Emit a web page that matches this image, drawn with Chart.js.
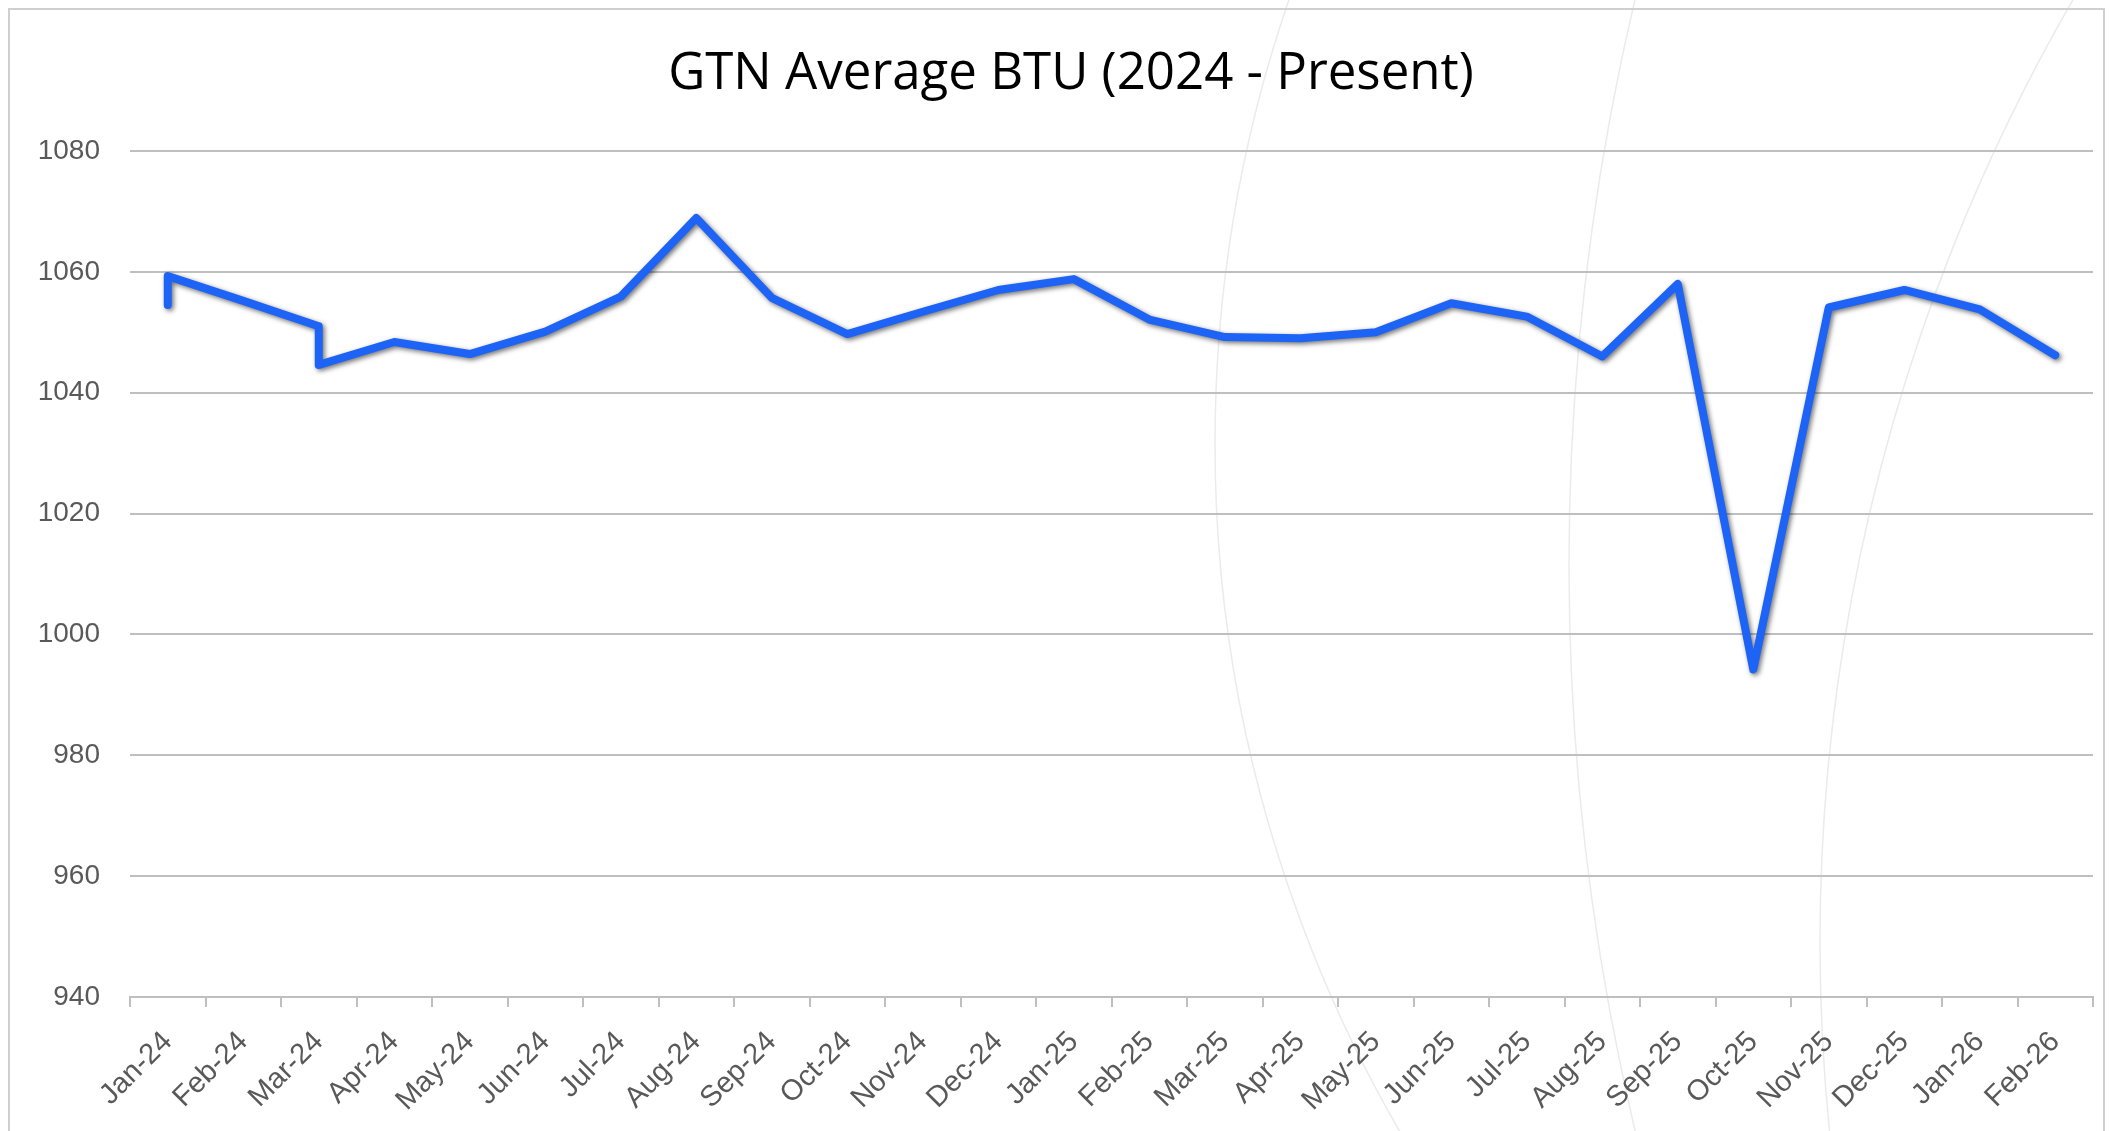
<!DOCTYPE html>
<html>
<head>
<meta charset="utf-8">
<title>GTN Average BTU</title>
<script src="https://cdn.jsdelivr.net/npm/chart.js@4.4.1/dist/chart.umd.min.js"></script>
<style>
    html, body { margin: 0; padding: 0; background: #ffffff; }
    #wrap { position: relative; width: 2111px; height: 1131px; }
</style>
</head>
<body>
<div id="wrap"><canvas id="btuChart" width="2111" height="1131"></canvas></div>
<script>
// Month categories on the x axis
const months = ['Jan-24', 'Feb-24', 'Mar-24', 'Apr-24', 'May-24', 'Jun-24', 'Jul-24', 'Aug-24',
    'Sep-24', 'Oct-24', 'Nov-24', 'Dec-24', 'Jan-25', 'Feb-25', 'Mar-25', 'Apr-25', 'May-25',
    'Jun-25', 'Jul-25', 'Aug-25', 'Sep-25', 'Oct-25', 'Nov-25', 'Dec-25', 'Jan-26', 'Feb-26'];

// Readings (some months have two readings, plotted in the same month slot)
const readingMonths = ['Jan-24', 'Jan-24', 'Feb-24', 'Mar-24', 'Mar-24', 'Apr-24', 'May-24', 'Jun-24',
    'Jul-24', 'Aug-24', 'Sep-24', 'Oct-24', 'Nov-24', 'Dec-24', 'Jan-25', 'Feb-25', 'Mar-25',
    'Apr-25', 'May-25', 'Jun-25', 'Jul-25', 'Aug-25', 'Sep-25', 'Oct-25', 'Nov-25', 'Dec-25',
    'Jan-26', 'Feb-26'];
const btuValues = [1054.5, 1059.3, 1055.2, 1051.0, 1044.6, 1048.4, 1046.4, 1050.1,
    1055.9, 1068.9, 1055.7, 1049.7, 1053.4, 1057.0, 1058.8, 1052.1, 1049.2,
    1049.0, 1050.0, 1054.8, 1052.6, 1046.0, 1058.0, 994.2, 1054.1, 1057.0,
    1053.8, 1046.2];

// Y axis range
const yMin = 940;
const yMax = 1080;
const yStep = 20;

const chartTitle = 'GTN Average BTU (2024 - Present)';
const axisGray = '#bfbfbf';
const labelGray = '#595959';

// soft drop shadow under the line, like the Excel effect
const lineShadow = {
    id: 'lineShadow',
    beforeDatasetsDraw(chart) {
        const ctx = chart.ctx;
        ctx.save();
        ctx.shadowColor = 'rgba(0, 0, 0, 0.55)';
        ctx.shadowBlur = 5;
        ctx.shadowOffsetX = 2;
        ctx.shadowOffsetY = 2;
    },
    afterDatasetsDraw(chart) {
        chart.ctx.restore();
    }
};

// frame, faint background swirls of the slide theme, and the title
// (Excel centres the title on the chart object, not on the plot area)
const chartFrame = {
    id: 'chartFrame',
    beforeDraw(chart) {
        const ctx = chart.ctx;
        ctx.save();
        ctx.strokeStyle = '#ebebeb';
        ctx.lineWidth = 1.5;
        [[2586, 444, 1371], [4025, 565, 2456], [3701, 942, 1881]].forEach(a => {
            ctx.beginPath();
            ctx.arc(a[0], a[1], a[2], 0, Math.PI * 2);
            ctx.stroke();
        });
        ctx.strokeStyle = '#cfcfcf';
        ctx.lineWidth = 2;
        ctx.beginPath();
        ctx.moveTo(9, 1131);
        ctx.lineTo(9, 9);
        ctx.lineTo(2104, 9);
        ctx.lineTo(2104, 1131);
        ctx.stroke();

        ctx.fillStyle = '#000000';
        ctx.font = '51px "Open Sans", sans-serif';
        ctx.textAlign = 'center';
        ctx.textBaseline = 'middle';
        ctx.fillText(chartTitle, 1071, 74);
        ctx.restore();
    }
};

const ctx = document.getElementById('btuChart').getContext('2d');
const btuChart = new Chart(ctx, {
    type: 'line',
    data: {
        labels: months,
        datasets: [{
            label: 'GTN Average BTU',
            data: readingMonths.map((m, i) => ({ x: m, y: btuValues[i] })),
            borderColor: '#1d63f5',
            borderWidth: 8,
            borderJoinStyle: 'round',
            borderCapStyle: 'round',
            pointRadius: 0,
            pointHoverRadius: 0,
            tension: 0,
            fill: false
        }]
    },
    options: {
        responsive: false,
        animation: false,
        layout: {
            padding: { left: 0, right: 18, top: 151, bottom: 0 }
        },
        plugins: {
            legend: { display: false },
            tooltip: { enabled: false },
            title: { display: false }
        },
        scales: {
            x: {
                type: 'category',
                offset: true,
                grid: {
                    offset: true,
                    drawOnChartArea: false,
                    drawTicks: true,
                    tickLength: 10,
                    color: axisGray,
                    lineWidth: 2
                },
                border: { display: true, color: axisGray, width: 2 },
                ticks: {
                    autoSkip: false,
                    minRotation: 45,
                    maxRotation: 45,
                    padding: 18,
                    color: labelGray,
                    font: { family: '"Liberation Sans", Arial, sans-serif', size: 29 }
                },
                afterFit(scale) { scale.height = 134; }
            },
            y: {
                min: yMin,
                max: yMax,
                grid: {
                    drawTicks: false,
                    color: axisGray,
                    lineWidth: 2
                },
                border: { display: false },
                ticks: {
                    stepSize: yStep,
                    padding: 30,
                    color: labelGray,
                    font: { family: '"Liberation Sans", Arial, sans-serif', size: 28 },
                    callback: value => String(value)
                },
                afterFit(scale) { scale.width = 130; }
            }
        }
    },
    plugins: [chartFrame, lineShadow]
});
</script>
</body>
</html>
